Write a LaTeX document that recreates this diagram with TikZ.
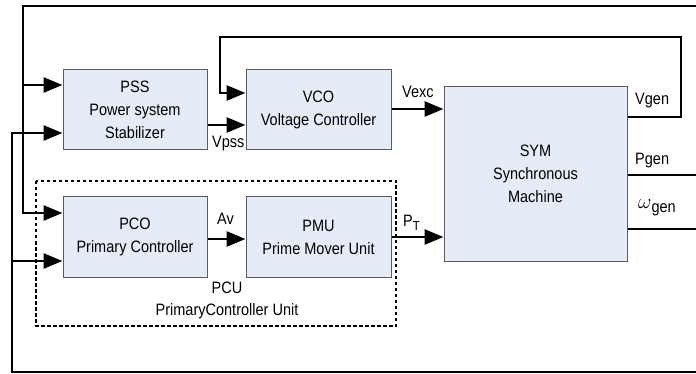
\documentclass[tikz,border=0pt]{standalone}
\usepackage{fontspec}
\setmainfont{Liberation Sans}[FakeStretch=0.88]
\usetikzlibrary{arrows.meta}
\definecolor{boxfill}{HTML}{E6ECF7}
\definecolor{boxline}{HTML}{5A5A5A}
\tikzset{
  blk/.style={draw=boxline, fill=boxfill, line width=1pt, align=center,
    font=\fontsize{16.5}{23}\selectfont, inner sep=0pt},
  sig/.style={line width=2.7pt, -{Triangle[length=19pt,width=15pt]}},
  wire/.style={line width=2.7pt},
  lbl/.style={font=\fontsize{16.5}{17}\selectfont, inner sep=0pt},
  grp/.style={draw=black, dashed, dash pattern=on 3.5pt off 2.5pt, line width=1.8pt}
}
\begin{document}
\begin{tikzpicture}[x=1pt,y=-1pt]
\useasboundingbox (0,0) rectangle (696,374);

% group box
\draw[grp] (36,181) rectangle (396,326);

% blocks
\node[blk, minimum width=144pt, minimum height=80pt] (pss) at (135,110) {PSS\\Power system\\Stabilizer};
\node[blk, minimum width=145pt, minimum height=80pt] (vco) at (318.5,110) {VCO\\Voltage Controller};
\node[blk, minimum width=183pt, minimum height=174pt] (sym) at (535.5,174) {SYM\\Synchronous\\Machine};
\node[blk, minimum width=144pt, minimum height=80pt] (pco) at (135,237) {PCO\\Primary Controller};
\node[blk, minimum width=145pt, minimum height=80pt] (pmu) at (318.5,237) {PMU\\Prime Mover Unit};

\node[lbl, anchor=base] (pcu1) at (227,293) {PCU};
\node[lbl, anchor=base] (pcu2) at (227,315) {PrimaryController Unit};

% outer feedback loops
\coordinate (topR) at (697,6);
\coordinate (topL) at (23,6);
\coordinate (a1) at (23,85);
\coordinate (a2) at (23,213);
\draw[sig] (topR) -- (topL) -- (a2) -- (a2 -| pco.west);
\draw[sig] (a1) -- (a1 -| pss.west);

\coordinate (botR) at (697,372);
\coordinate (botL) at (12,372);
\coordinate (b1) at (12,133);
\coordinate (b2) at (12,261);
\draw[sig] (botR) -- (botL) -- (b1) -- (b1 -| pss.west);
\draw[sig] (b2) -- (b2 -| pco.west);

% Vpss
\coordinate (vp) at (220,125);
\draw[sig] (vp -| pss.east) -- (vp -| vco.west);
\node[lbl, anchor=base west] (vpss) at (212,148) {Vpss};

% Vgen feedback
\coordinate (g1) at (681,117);
\coordinate (g2) at (681,37);
\coordinate (g3) at (220,37);
\coordinate (g4) at (220,93);
\draw[sig] (g1 -| sym.east) -- (g1) -- (g2) -- (g3) -- (g4) -- (g4 -| vco.west);
\node[lbl, anchor=base west] (vgen) at (635,105) {Vgen};

% Vexc
\coordinate (ve) at (420,109);
\draw[sig] (ve -| vco.east) -- (ve -| sym.west);
\node[lbl, anchor=base west] (vexc) at (402,98) {Vexc};

% Av
\coordinate (av) at (225,239);
\draw[sig] (av -| pco.east) -- (av -| pmu.west);
\node[lbl, anchor=base west] (avl) at (217,225) {Av};

% P_T
\coordinate (pt) at (420,237);
\draw[sig] (pt -| pmu.east) -- (pt -| sym.west);
\node[lbl, anchor=base west] (ptl) at (403,226) {P\raisebox{-4pt}{\fontsize{13}{13}\selectfont T}};

% outputs
\coordinate (pgR) at (697,175);
\draw[wire] (pgR -| sym.east) -- (pgR);
\node[lbl, anchor=base west] (pgen) at (635,165) {Pgen};

\coordinate (wgR) at (697,229);
\draw[wire] (wgR -| sym.east) -- (wgR);
\node[lbl, anchor=base west] (wgen) at (638,209) {{\fontsize{20}{20}\selectfont$\omega$}\raisebox{-4pt}{gen}};
\end{tikzpicture}
\end{document}
